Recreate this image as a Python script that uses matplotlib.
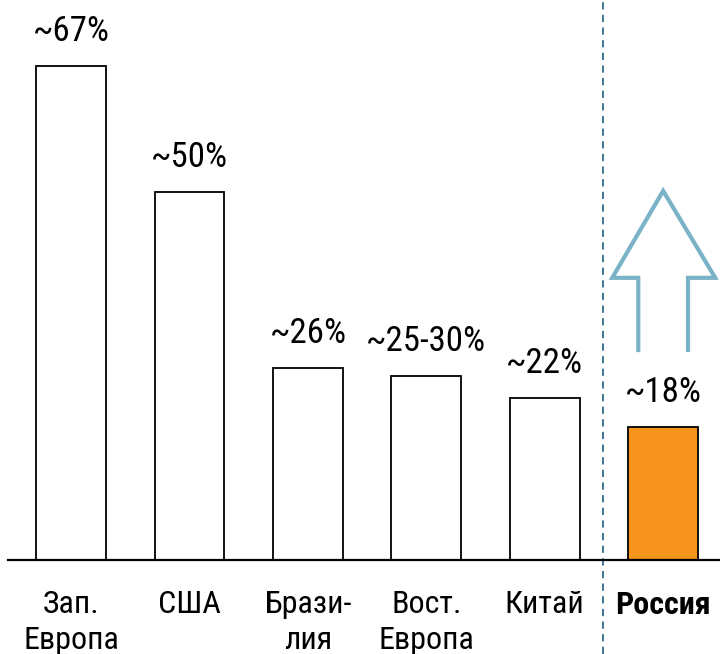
import matplotlib.pyplot as plt
from matplotlib import font_manager
import numpy as np

# condensed sans font, like Arial Narrow in the original
names = {f.name for f in font_manager.fontManager.ttflist}
font = 'DejaVu Sans'
for cand in ['Liberation Sans Narrow', 'Arimo Narrow', 'Roboto Condensed', 'PT Sans Narrow', 'Open Sans Condensed']:
    if cand in names:
        font = cand
        break
plt.rcParams['font.family'] = [font, 'DejaVu Sans']
if font == 'DejaVu Sans':
    plt.rcParams['font.stretch'] = 'condensed'

# data
categories = ['Зап.\nЕвропа', 'США', 'Брази-\nлия', 'Вост.\nЕвропа', 'Китай', 'Россия']
values = [67, 50, 26, 25, 22, 18]
labels = ['~67%', '~50%', '~26%', '~25-30%', '~22%', '~18%']

x = np.arange(len(categories))
fig = plt.figure(figsize=(7.2, 6.54), dpi=100)
ax = fig.add_axes([0, 0, 1, 1])
ax.set_xlim(-0.6, 5.48)
ax.set_ylim(-12.75, 76.0)
ax.axis('off')

colors = ['white'] * 5 + ['#f7941d']
ax.bar(x, values, width=0.59, color=colors, edgecolor='black', linewidth=1.3, zorder=2)
ax.plot([-0.535, 5.48], [0, 0], color='black', linewidth=1.6, zorder=3)

for xi, v, lab in zip(x, values, labels):
    ax.text(xi, v + 3.4, lab, ha='center', va='baseline', fontsize=25)

for xi, cat in zip(x, categories):
    ax.text(xi, -4.1, cat, ha='center', va='top', fontsize=23, linespacing=1.28,
            fontweight='bold' if cat == 'Россия' else 'normal')

# separator
ax.axvline(4.49, color='#2e6d8e', linestyle=(0, (4, 3)), linewidth=1.3)

# upward arrow outline above Russia
xr = x[-1]
ax.plot([xr - 0.21, xr - 0.21, xr - 0.43, xr, xr + 0.44, xr + 0.21, xr + 0.21],
        [28.5, 38.3, 38.3, 50.1, 38.3, 38.3, 28.5],
        color='#7ab3c8', linewidth=3, solid_joinstyle='miter')

fig.savefig('out.png', dpi=100)
